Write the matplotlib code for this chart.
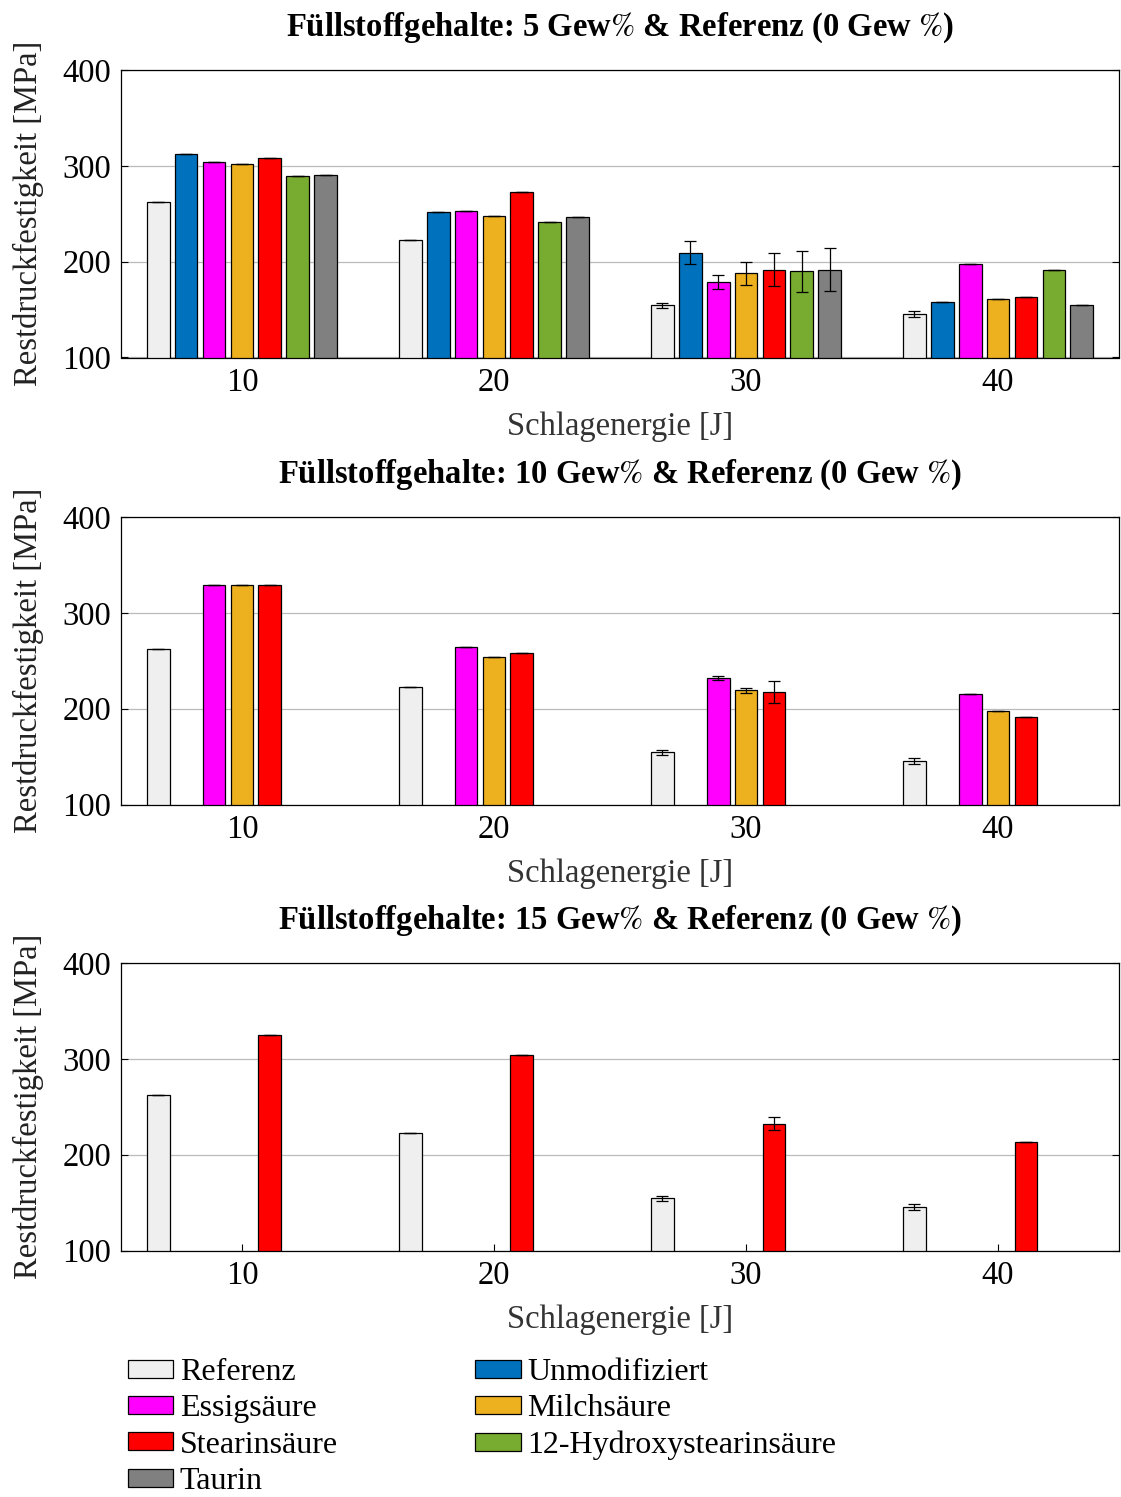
import numpy as np
import matplotlib
matplotlib.use("Agg")
import matplotlib.pyplot as plt
from matplotlib.patches import Patch

plt.rcParams['font.family'] = ['Liberation Serif', 'DejaVu Serif']
plt.rcParams['mathtext.fontset'] = 'stix'

energies = [10, 20, 30, 40]
series = ["Referenz", "Unmodifiziert", "Essigsäure", "Milchsäure",
          "Stearinsäure", "12-Hydroxystearinsäure", "Taurin"]
colors = ["#EFEFEF", "#0072BD", "#FF00FF", "#EDB120",
          "#FF0000", "#77AC30", "#808080"]

nan = np.nan

# Panel 1: 5 Gew%
p5_values = {
    "Referenz":               [262.6, 223.1, 154.3, 145.5],
    "Unmodifiziert":          [312.8, 251.9, 209.4, 157.9],
    "Essigsäure":             [304.2, 252.6, 178.5, 197.6],
    "Milchsäure":             [302.4, 247.7, 187.8, 160.8],
    "Stearinsäure":           [308.6, 272.3, 191.6, 162.9],
    "12-Hydroxystearinsäure": [289.9, 240.9, 189.9, 191.2],
    "Taurin":                 [290.0, 246.8, 191.6, 154.3],
}
p5_errors = {
    "Referenz":               [0, 0, 2.6, 3.1],
    "Unmodifiziert":          [0, 0, 12.0, 0],
    "Essigsäure":             [0, 0, 7.5, 0],
    "Milchsäure":             [0, 0, 12.3, 0],
    "Stearinsäure":           [0, 0, 17.0, 0],
    "12-Hydroxystearinsäure": [0, 0, 21.7, 0],
    "Taurin":                 [0, 0, 22.5, 0],
}

# Panel 2: 10 Gew%
p10_values = {
    "Referenz":               [262.6, 223.1, 154.3, 145.5],
    "Unmodifiziert":          [nan, nan, nan, nan],
    "Essigsäure":             [329.2, 264.3, 232.0, 214.9],
    "Milchsäure":             [329.5, 253.5, 219.0, 197.2],
    "Stearinsäure":           [328.8, 258.0, 217.7, 191.7],
    "12-Hydroxystearinsäure": [nan, nan, nan, nan],
    "Taurin":                 [nan, nan, nan, nan],
}
p10_errors = {
    "Referenz":               [0, 0, 2.6, 3.1],
    "Unmodifiziert":          [0, 0, 0, 0],
    "Essigsäure":             [0, 0, 1.6, 0],
    "Milchsäure":             [0, 0, 2.3, 0],
    "Stearinsäure":           [0, 0, 11.6, 0],
    "12-Hydroxystearinsäure": [0, 0, 0, 0],
    "Taurin":                 [0, 0, 0, 0],
}

# Panel 3: 15 Gew%
p15_values = {
    "Referenz":               [262.6, 223.1, 154.3, 145.5],
    "Unmodifiziert":          [nan, nan, nan, nan],
    "Essigsäure":             [nan, nan, nan, nan],
    "Milchsäure":             [nan, nan, nan, nan],
    "Stearinsäure":           [325.0, 303.5, 232.3, 213.5],
    "12-Hydroxystearinsäure": [nan, nan, nan, nan],
    "Taurin":                 [nan, nan, nan, nan],
}
p15_errors = {
    "Referenz":               [0, 0, 2.8, 3.3],
    "Unmodifiziert":          [0, 0, 0, 0],
    "Essigsäure":             [0, 0, 0, 0],
    "Milchsäure":             [0, 0, 0, 0],
    "Stearinsäure":           [0, 0, 6.9, 0],
    "12-Hydroxystearinsäure": [0, 0, 0, 0],
    "Taurin":                 [0, 0, 0, 0],
}

titles = [r"Füllstoffgehalte: 5 Gew$\%$ & Referenz (0 Gew $\%$)",
          r"Füllstoffgehalte: 10 Gew$\%$ & Referenz (0 Gew $\%$)",
          r"Füllstoffgehalte: 15 Gew$\%$ & Referenz (0 Gew $\%$)"]
panels = [(p5_values, p5_errors), (p10_values, p10_errors), (p15_values, p15_errors)]

W, H = 1121, 1497
fig = plt.figure(figsize=(W / 100, H / 100), dpi=100)

left = 121 / W
width = (1119 - 121) / W
tops = [70, 517, 963]
ax_h = 287.5

FS = 23.5
bar_w = 0.91
step = 1.11

for (vals, errs), title, top in zip(panels, titles, tops):
    ax = fig.add_axes([left, 1 - (top + ax_h) / H, width, ax_h / H])
    x = np.array(energies, dtype=float)
    for i, (name, col) in enumerate(zip(series, colors)):
        off = (i - 3) * step
        v = np.array(vals[name], dtype=float)
        e = np.array(errs[name], dtype=float)
        mask = ~np.isnan(v)
        if not mask.any():
            continue
        ax.bar(x[mask] + off, v[mask], width=bar_w, color=col,
               edgecolor="black", linewidth=0.9, zorder=2)
        ax.errorbar(x[mask] + off, v[mask], yerr=e[mask], fmt="none",
                    ecolor="black", elinewidth=0.9, capsize=4.5,
                    capthick=0.9, zorder=3)
    ax.set_xlim(5.2, 44.8)
    ax.set_ylim(100, 400)
    ax.set_yticks([100, 200, 300, 400])
    ax.set_xticks(energies)
    ax.yaxis.grid(True, color="#BBBBBB", linewidth=0.9, zorder=0)
    ax.set_axisbelow(True)
    ax.tick_params(direction="in", labelsize=FS, top=False, right=True,
                   length=5, width=0.8, pad=7)
    ax.tick_params(axis="y", pad=7)
    for s in ax.spines.values():
        s.set_linewidth(0.9)
    ax.set_title(title, fontsize=23.5, fontweight="bold", pad=25)
    ax.set_xlabel("Schlagenergie [J]", fontsize=FS, color="#333333", labelpad=10)
    ax.set_ylabel("Restdruckfestigkeit [MPa]", fontsize=FS, color="#222222", labelpad=13)

# legend laid out row by row in two columns
order = [0, 2, 4, 6, 1, 3, 5]
handles = [Patch(facecolor=colors[i], edgecolor="black", linewidth=0.9) for i in order]
labels = [series[i] for i in order]
fig.legend(handles, labels, loc="upper left", bbox_to_anchor=(128 / W, 1 - 1358 / H),
           ncol=2, frameon=False, fontsize=23, handlelength=1.42, handleheight=0.5,
           handletextpad=0.2, columnspacing=4.3, labelspacing=0.23,
           borderpad=0, borderaxespad=0)

fig.savefig("out.png", dpi=100)
